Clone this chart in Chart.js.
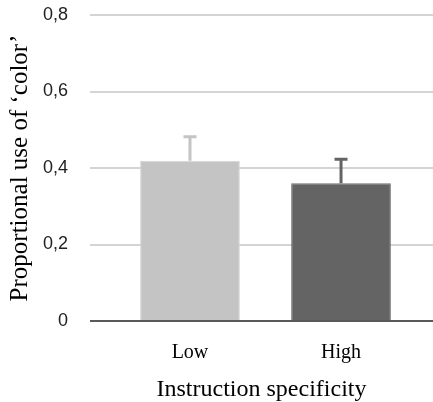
<!DOCTYPE html>
<html>
<head>
<meta charset="utf-8">
<script src="https://cdn.jsdelivr.net/npm/chart.js@4"></script>
<style>
  html, body { margin: 0; padding: 0; background: #fff; }
  #wrap { width: 433px; height: 402px; }
</style>
</head>
<body>
<div id="wrap"><canvas id="chart"></canvas></div>
<script>
const categories = ['Low', 'High']
const proportions = [0.419, 0.360]
const errors = [0.063, 0.063]
const yTicks = [0, 0.2, 0.4, 0.6, 0.8]
const barColors = ['#c4c4c4', '#646464']

// error bars only go up, drawn through the y scale
const errorBars = {
    id: 'errorBars',
    afterDatasetsDraw(chart) {
        const {ctx, scales: {y}} = chart
        const meta = chart.getDatasetMeta(0)
        ctx.save()
        meta.data.forEach((bar, i) => {
            const top = y.getPixelForValue(proportions[i] + errors[i])
            ctx.strokeStyle = barColors[i]
            ctx.lineWidth = 3
            ctx.beginPath()
            ctx.moveTo(bar.x, bar.y)
            ctx.lineTo(bar.x, top)
            ctx.moveTo(bar.x - 6.5, top)
            ctx.lineTo(bar.x + 6.5, top)
            ctx.stroke()
        })
        ctx.restore()
    }
}

new Chart(document.getElementById('chart'), {
    type: 'bar',
    data: {
        datasets: [{
            data: categories.map((c, i) => ({x: i, y: proportions[i]})),
            backgroundColor: barColors,
            borderColor: ['#d6d6d6', '#6e6e6e'],
            borderWidth: 1,
            categoryPercentage: 1,
            barPercentage: 0.66,
        }]
    },
    options: {
        responsive: true,
        maintainAspectRatio: false,
        animation: false,
        layout: {padding: {top: 15, left: 0, right: 0, bottom: 0}},
        plugins: {legend: {display: false}, tooltip: {enabled: false}},
        scales: {
            x: {
                type: 'linear',
                offset: false,
                min: -0.662,
                max: 1.609,
                afterBuildTicks: axis => { axis.ticks = categories.map((c, i) => ({value: i})) },
                afterFit: axis => { axis.height = 81 },
                grid: {display: false},
                border: {display: false},
                ticks: {
                    padding: 12,
                    color: '#000',
                    font: {family: '"Liberation Serif", serif', size: 20},
                    callback: v => categories[v] ?? ''
                },
                title: {
                    display: true,
                    text: 'Instruction specificity',
                    color: '#000',
                    font: {family: '"Liberation Serif", serif', size: 24, lineHeight: 1.05},
                    padding: {top: 0, bottom: 0}
                }
            },
            y: {
                min: 0,
                max: 0.8,
                afterBuildTicks: axis => { axis.ticks = yTicks.map(v => ({value: v})) },
                afterFit: axis => { axis.width = 90 },
                border: {display: false},
                grid: {
                    // tick marks only used as spacing for the labels
                    drawTicks: true,
                    tickLength: 22,
                    tickColor: 'rgba(0,0,0,0)',
                    lineWidth: 2,
                    color: c => c.tick.value === 0 ? '#5a5a5a' : '#d4d4d4'
                },
                ticks: {
                    padding: 0,
                    color: '#222',
                    font: {family: '"Liberation Sans", Arial, sans-serif', size: 18},
                    callback: v => v === 0 ? '0' : v.toFixed(1).replace('.', ',')
                },
                title: {
                    display: true,
                    text: 'Proportional use of ‘color’',
                    color: '#000',
                    font: {family: '"Liberation Serif", serif', size: 25},
                    padding: {top: 5, bottom: 0}
                }
            }
        }
    },
    plugins: [errorBars]
})
</script>
</body>
</html>
